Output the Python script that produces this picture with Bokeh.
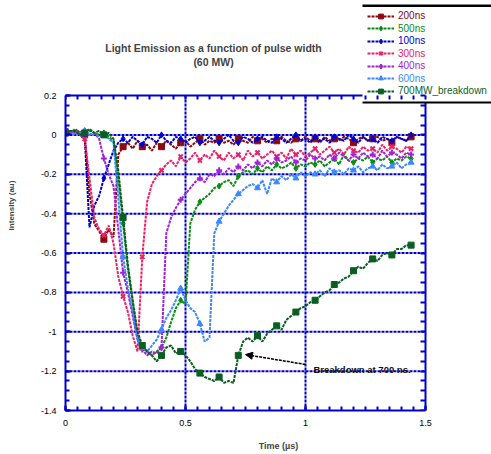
from bokeh.plotting import figure
from bokeh.models import (Range1d, FixedTicker, LinearAxis, Legend, LegendItem,
                          Label, Arrow, NormalHead, BoxAnnotation)
from bokeh.embed import file_html
from bokeh.resources import INLINE

# ---------------- data ----------------
T = [0.00, 0.02, 0.04, 0.06, 0.08, 0.10, 0.12, 0.14, 0.16, 0.18,
     0.20, 0.22, 0.24, 0.26, 0.28, 0.30, 0.32, 0.34, 0.36, 0.38,
     0.40, 0.42, 0.44, 0.46, 0.48, 0.50, 0.52, 0.54, 0.56, 0.58,
     0.60, 0.62, 0.64, 0.66, 0.68, 0.70, 0.72, 0.74, 0.76, 0.78,
     0.80, 0.82, 0.84, 0.86, 0.88, 0.90, 0.92, 0.94, 0.96, 0.98,
     1.00, 1.02, 1.04, 1.06, 1.08, 1.10, 1.12, 1.14, 1.16, 1.18,
     1.20, 1.22, 1.24, 1.26, 1.28, 1.30, 1.32, 1.34, 1.36, 1.38,
     1.40, 1.42, 1.44]

S200 = [0.01, 0.02, 0.01, 0.02, 0.00,
        -0.30, -0.45, -0.49, -0.53, -0.48, -0.52, -0.10, -0.06,
        -0.04, -0.07, -0.03, -0.06, -0.05, -0.08, -0.04, -0.06, -0.03,
        -0.05, -0.07, -0.04, -0.03, -0.06, -0.04, -0.02, -0.05, -0.03, -0.04,
        -0.02, -0.04, -0.03, -0.05, -0.02, -0.03, -0.04, -0.01, -0.03, -0.02,
        -0.04, -0.02, -0.03, -0.01, -0.03, -0.04, -0.02, -0.03, -0.01, -0.03,
        -0.02, -0.04, -0.01, -0.03, -0.02, -0.03, -0.01, -0.02, -0.04, -0.02,
        -0.01, -0.03, -0.02, -0.01, -0.03, -0.02, -0.04, -0.01, -0.02, -0.03, -0.01]

S500 = [0.02, 0.01, 0.03, 0.01, 0.00, 0.02, 0.01, 0.00, 0.01, -0.01,
        -0.03, -0.22, -0.45, -0.68, -0.85, -1.02, -1.08, -1.10, -1.12, -1.10,
        -1.08, -1.03, -0.95, -0.88, -0.84, -0.86, -0.45, -0.38, -0.34, -0.32,
        -0.30, -0.27, -0.26, -0.24, -0.23, -0.26, -0.21, -0.19, -0.18, -0.20,
        -0.17, -0.19, -0.16, -0.18, -0.15, -0.17, -0.16, -0.14, -0.17, -0.15,
        -0.16, -0.14, -0.15, -0.13, -0.16, -0.14, -0.12, -0.15, -0.10, -0.13,
        -0.14, -0.12, -0.13, -0.11, -0.14, -0.12, -0.13, -0.11, -0.14, -0.12,
        -0.13, -0.11, -0.12]

S100 = [0.02, 0.01, 0.02, 0.00, -0.01,
        -0.47, -0.36, -0.31, -0.22, -0.15, -0.08, -0.04,
        -0.02, -0.04, -0.01, -0.03, -0.05, -0.01, -0.02, -0.04, 0.00, -0.03,
        -0.04, -0.01, -0.02, -0.04, -0.02, -0.01, -0.04, -0.03, -0.01, -0.03,
        -0.04, -0.02, 0.00, -0.03, -0.04, -0.01, -0.02, -0.04, -0.02, -0.01,
        -0.03, -0.04, -0.01, -0.02, -0.04, -0.02, 0.00, -0.03, -0.02, -0.04,
        -0.01, -0.03, -0.02, -0.04, -0.01, -0.02, -0.03, 0.00, -0.02, -0.04,
        -0.01, -0.03, -0.02, -0.04, -0.01, -0.02, -0.03, -0.01, -0.02, -0.03, 0.00]

S300 = [0.02, 0.01, 0.02, 0.00, -0.02,
        -0.22, -0.42, -0.48, -0.51, -0.46, -0.55, -0.72, -0.82, -0.90, -1.02,
        -1.10, -0.62, -0.34, -0.25, -0.21, -0.18, -0.15,
        -0.13, -0.16, -0.11, -0.14, -0.12, -0.09, -0.13, -0.10, -0.12, -0.08,
        -0.11, -0.13, -0.09, -0.12, -0.10, -0.13, -0.08, -0.11, -0.09, -0.12,
        -0.10, -0.08, -0.11, -0.09, -0.12, -0.07, -0.10, -0.08, -0.11, -0.09,
        -0.07, -0.10, -0.08, -0.06, -0.09, -0.07, -0.10, -0.06, -0.08, -0.09,
        -0.06, -0.08, -0.07, -0.09, -0.05, -0.08, -0.06, -0.07, -0.09, -0.06, -0.07]

S400 = [0.03, 0.01, 0.02, 0.01, 0.02, 0.00, 0.01,
        -0.02, -0.12, -0.20, -0.26, -0.48, -0.70, -0.80, -0.92, -1.04, -1.09,
        -1.12, -1.10, -1.11, -1.08, -0.50, -0.42, -0.37, -0.33, -0.30, -0.27,
        -0.24, -0.22, -0.24, -0.20, -0.21,
        -0.18, -0.20, -0.17, -0.19, -0.16, -0.18, -0.15, -0.17, -0.14, -0.16,
        -0.13, -0.15, -0.12, -0.14, -0.13, -0.11, -0.14, -0.12, -0.13, -0.10,
        -0.12, -0.11, -0.13, -0.10, -0.12, -0.09, -0.11, -0.13, -0.10, -0.12,
        -0.09, -0.11, -0.10, -0.12, -0.08, -0.11, -0.09, -0.10, -0.12, -0.09, -0.10]

S600 = [0.01, 0.02, 0.00, 0.01, 0.02, 0.00, 0.01, -0.01, 0.00, -0.02,
        -0.04, -0.32, -0.62, -0.78, -0.90, -1.04, -1.08, -1.10, -1.07, -1.04,
        -0.99, -0.93, -0.89, -0.84, -0.78, -0.84, -0.88, -0.90, -0.96, -1.05,
        -1.03, -0.50, -0.44, -0.40, -0.36, -0.33, -0.30, -0.28, -0.26, -0.25,
        -0.27, -0.23, -0.30, -0.22, -0.24, -0.21, -0.23, -0.20, -0.22, -0.19,
        -0.21, -0.19, -0.20, -0.18, -0.21, -0.17, -0.19, -0.18, -0.20, -0.17,
        -0.18, -0.16, -0.19, -0.17, -0.16, -0.18, -0.15, -0.17, -0.16, -0.14,
        -0.17, -0.15, -0.14]

S700 = [0.01, 0.02, 0.02, 0.00, 0.01, 0.03, 0.01, 0.02, 0.00, 0.01,
        -0.02, -0.18, -0.42, -0.66, -0.84, -1.00, -1.07, -1.10, -1.12, -1.15,
        -1.12, -1.08, -1.07, -1.11, -1.10, -1.12, -1.15, -1.19, -1.21, -1.23,
        -1.24, -1.25, -1.23, -1.26, -1.25, -1.26, -1.12, -1.05, -1.03, -1.05,
        -1.02, -1.05, -1.01, -0.99, -0.97, -0.99, -0.94, -0.92, -0.90, -0.88,
        -0.87, -0.85, -0.84, -0.82, -0.80, -0.79, -0.76, -0.75, -0.73, -0.72,
        -0.69, -0.67, -0.68, -0.65, -0.63, -0.64, -0.61, -0.60, -0.61, -0.58,
        -0.58, -0.56, -0.56]

LABELS = ["200ns", "500ns", "100ns", "300ns", "400ns", "600ns", "700MW_breakdown"]
VALUES = [S200, S500, S100, S300, S400, S600, S700]
COLORS = ["#8B0A10", "#0A8C14", "#0000D0", "#E8226A", "#A024D6", "#3A88FF", "#0B5E22"]
MARKERS = ["square", "diamond", "diamond", "x", "cross", "triangle", "square"]

X_TICKS = [0, 0.5, 1, 1.5]
X_LABELS = ["0", "0.5", "1", "1.5"]
Y_TICKS = [0.2, 0, -0.2, -0.4, -0.6, -0.8, -1, -1.2, -1.4]
Y_LABELS = ["0.2", "0", "-0.2", "-0.4", "-0.6", "-0.8", "-1", "-1.2", "-1.4"]

TITLE1 = "Light Emission as a function of pulse width"
TITLE2 = "(60 MW)"
X_TITLE = "Time (\u00b5s)"
Y_TITLE = "Intensity (au)"
NOTE = "Breakdown at 700 ns."
NOTE_X, NOTE_Y = 1.033, -1.19
ARROW_FROM = (1.0, -1.166)
ARROW_TO = (0.75, -1.116)

BLUE = "#0000CC"
FONT = "Liberation Sans"

# ---------------- layout ----------------
W, H = 491, 454
LEFT, RIGHT, TOP, BOTTOM = 65, 425, 95, 410          # visible plot box (pixels)
LG_LEFT, LG_TOP, LG_BOTTOM = 362, 5, 102              # legend block (pixels)
X0, X1 = X_TICKS[0], X_TICKS[-1]
Y0, Y1 = Y_TICKS[-1], Y_TICKS[0]
px_per_x = (RIGHT - LEFT) / (X1 - X0)
px_per_y = (BOTTOM - TOP) / (Y1 - Y0)
x_view_end = X1 + (W - RIGHT) / px_per_x
y_view_top = Y1 + TOP / px_per_y
x_legend_edge = X0 + (LG_LEFT - LEFT) / px_per_x       # top border stops at the legend
y_legend_edge = Y1 - (LG_BOTTOM - TOP) / px_per_y      # right border starts below the legend

p = figure(width=W, height=H, x_range=Range1d(X0, x_view_end), y_range=Range1d(Y0, y_view_top),
           output_backend="svg", toolbar_location=None, title=None,
           min_border_left=LEFT, min_border_right=0, min_border_top=0, min_border_bottom=H - BOTTOM)
p.outline_line_color = None
p.background_fill_color = "white"
p.border_fill_color = "white"
p.xgrid.visible = False
p.ygrid.visible = False

x_minor = [round(0.05 * i, 2) for i in range(31)]
y_minor = [round(-1.4 + 0.05 * i, 2) for i in range(33)]

xb = p.xaxis[0]
yl = p.yaxis[0]
xb.ticker = FixedTicker(ticks=X_TICKS, minor_ticks=x_minor)
yl.ticker = FixedTicker(ticks=Y_TICKS, minor_ticks=y_minor)
xb.bounds = (X0, X1)
yl.bounds = (Y0, Y1)

xt = LinearAxis(ticker=FixedTicker(ticks=[], minor_ticks=x_minor), fixed_location=Y1,
                bounds=(X0, x_legend_edge))
yr = LinearAxis(ticker=FixedTicker(ticks=[], minor_ticks=y_minor), fixed_location=X1,
                bounds=(Y0, y_legend_edge))
p.add_layout(xt, "above")
p.add_layout(yr, "right")

for ax in (xb, yl, xt, yr):
    ax.axis_line_color = BLUE
    ax.axis_line_width = 2
    ax.major_tick_line_color = BLUE
    ax.major_tick_line_width = 2
    ax.minor_tick_line_color = BLUE
    ax.minor_tick_line_width = 2
    ax.major_tick_in = 5
    ax.major_tick_out = 0
    ax.minor_tick_in = 4
    ax.minor_tick_out = 0
    ax.major_label_text_font = FONT
    ax.major_label_text_font_size = "9px"
    ax.major_label_text_color = "black"
yr.minor_tick_in = 5

xb.major_label_overrides = dict(zip(X_TICKS, X_LABELS))
yl.major_label_overrides = dict(zip(Y_TICKS, Y_LABELS))
xb.major_label_standoff = 9
yl.major_label_standoff = 9

xb.axis_label = X_TITLE
xb.axis_label_text_font = FONT
xb.axis_label_text_font_size = "9px"
xb.axis_label_text_font_style = "bold"
xb.axis_label_standoff = 12
yl.axis_label = Y_TITLE
yl.axis_label_text_font = FONT
yl.axis_label_text_font_size = "8px"
yl.axis_label_text_font_style = "bold"
yl.axis_label_standoff = 22

# grid lines inside the plot box only
p.segment(x0=X_TICKS[1:-1], y0=[Y0] * (len(X_TICKS) - 2), x1=X_TICKS[1:-1], y1=[Y1] * (len(X_TICKS) - 2),
          line_color=BLUE, line_width=2, line_dash="3 1")
p.segment(x0=[X0] * (len(Y_TICKS) - 2), y0=Y_TICKS[1:-1], x1=[X1] * (len(Y_TICKS) - 2), y1=Y_TICKS[1:-1],
          line_color=BLUE, line_width=2, line_dash="3 1")

# ---------------- series ----------------
renderers = []
for lab, ys, col, mk in zip(LABELS, VALUES, COLORS, MARKERS):
    lr = p.line(T, ys, line_color=col, line_width=2, line_dash="3 1")
    sr = p.scatter(T[::4], ys[::4], marker=mk, size=6, fill_color=col,
                   line_color=col, line_width=2 if mk in ("x", "cross") else 1)
    renderers.append((lab, col, lr, sr))

# ---------------- annotations ----------------
p.add_layout(Arrow(end=NormalHead(size=7, fill_color="black", line_color="black", line_width=1),
                   x_start=ARROW_FROM[0], y_start=ARROW_FROM[1],
                   x_end=ARROW_TO[0], y_end=ARROW_TO[1],
                   line_color="black", line_width=1.5, line_dash="3 1"))
p.add_layout(Label(x=NOTE_X, y=NOTE_Y, text=NOTE, text_font=FONT, text_font_size="9.5px",
                   text_font_style="bold", text_baseline="middle", text_color="#111111"))

# titles (screen units: from the plot frame's left / bottom)
p.add_layout(Label(x=213 - LEFT, y=BOTTOM - 47, x_units="screen", y_units="screen", text=TITLE1,
                   text_font=FONT, text_font_size="10.5px", text_font_style="bold",
                   text_align="center", text_baseline="middle"))
p.add_layout(Label(x=213 - LEFT, y=BOTTOM - 61, x_units="screen", y_units="screen", text=TITLE2,
                   text_font=FONT, text_font_size="10.5px", text_font_style="bold",
                   text_align="center", text_baseline="middle"))

# legend rules (top and bottom)
units = dict(left_units="screen", right_units="screen", top_units="screen", bottom_units="screen")
rl, rr = LG_LEFT - LEFT, W - LEFT + 5
p.add_layout(BoxAnnotation(left=rl, right=rr, bottom=BOTTOM - LG_TOP - 1.5, top=BOTTOM - LG_TOP + 1,
                           fill_color="black", fill_alpha=1, line_color=None, **units))
p.add_layout(BoxAnnotation(left=rl, right=rr, bottom=BOTTOM - LG_BOTTOM - 1, top=BOTTOM - LG_BOTTOM + 1,
                           fill_color="black", fill_alpha=1, line_color=None, **units))

for k, (lab, col, lr, sr) in enumerate(renderers):
    leg = Legend(items=[LegendItem(label=lab, renderers=[lr, sr])],
                 location=(367 - LEFT, BOTTOM - 21.7 - 12.5 * k), padding=0, margin=0, spacing=0,
                 glyph_width=27, glyph_height=12, label_height=12, label_standoff=4,
                 label_text_font=FONT, label_text_font_size="10px", label_text_color=col,
                 border_line_color=None, border_line_alpha=0, background_fill_alpha=0)
    p.add_layout(leg, "center")

open("out.html", "w").write(file_html(p, INLINE))
